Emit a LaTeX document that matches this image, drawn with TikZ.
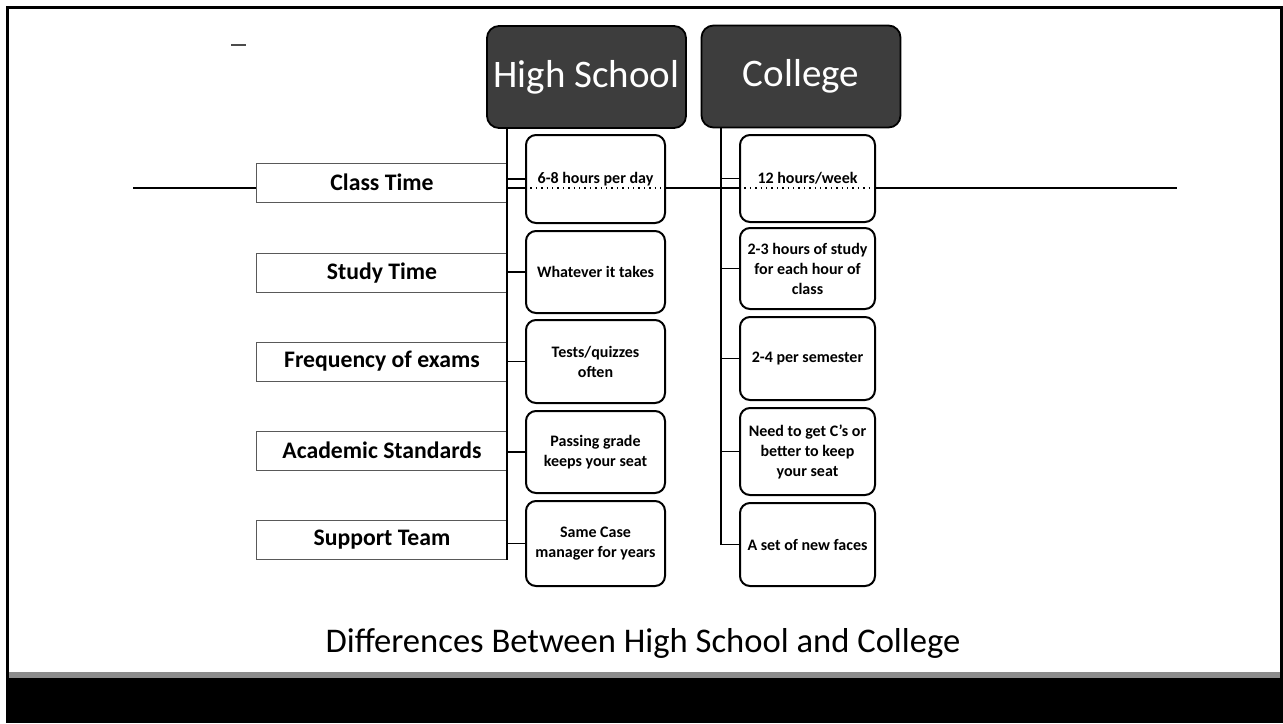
\documentclass[tikz,border=0pt]{standalone}
\usepackage{fontspec}
\setmainfont{Carlito}
\begin{document}
\begin{tikzpicture}[
  x=0.5pt,y=-0.5pt,
  head/.style={draw=black,line width=0.9pt,rounded corners=6pt,fill=black!76,text=white,inner sep=0pt,
    minimum width=99.5pt,minimum height=51pt,font=\fontsize{19.5}{22}\selectfont},
  rowlbl/.style={draw=black!65,line width=0.5pt,fill=white,inner sep=0pt,
    minimum width=125.5pt,minimum height=19.5pt,font=\bfseries\fontsize{11.85}{14}\selectfont},
  cell/.style={draw=black,line width=1pt,rounded corners=5pt,fill=white,align=center,inner sep=0pt,
    font=\bfseries\fontsize{8}{10}\selectfont},
  hcell/.style={cell,minimum width=69.5pt},
  ccell/.style={cell,minimum width=67.5pt},
  trunk/.style={draw=black,line width=0.9pt},
  branch/.style={draw=black,line width=0.9pt},
  guide/.style={draw=black,line width=0.7pt},
  guidein/.style={draw=black,line width=0.7pt,dotted},
  ttl/.style={font=\fontsize{17.3}{20}\selectfont},
]
\useasboundingbox (0,0) rectangle (1283,723);
\fill[white] (0,0) rectangle (1283,723);

\fill[black] (6,678) rectangle (1283,723);
\fill[black!45] (9,672) rectangle (1281,678);
\draw[line width=1.5pt] (7.5,678) -- (7.5,7) -- (1281,7) -- (1281,678);
\draw[black!70,line width=0.6pt] (231,45) -- (246,45);

\coordinate (gl) at (133,188);
\coordinate (gr) at (1177,188);
\draw[guide] (gl) -- (gr);

\node[head] (hs) at (586.5,77) {High School};
\node[head] (col) at (801,76.5) {College};

\node[rowlbl] (cls) at (382,182.5) {Class Time};
\node[rowlbl] (std) at (382,273) {Study Time};
\node[rowlbl] (frq) at (382,361.5) {Frequency of exams};
\node[rowlbl] (acd) at (382,450.5) {Academic Standards};
\node[rowlbl] (sup) at (382,540) {Support Team};

\node[hcell,minimum height=44pt] (h1) at (595.5,179) {6-8 hours per day};
\node[hcell,minimum height=41pt] (h2) at (595.5,272) {Whatever it takes};
\node[hcell,minimum height=41.5pt] (h3) at (595.5,361.5) {Tests/quizzes\\often};
\node[hcell,minimum height=41pt] (h4) at (595.5,452) {Passing grade\\keeps your seat};
\node[hcell,minimum height=42.5pt] (h5) at (595.5,543.5) {Same Case\\manager for years};

\node[ccell,minimum height=43.5pt] (c1) at (807.5,178.5) {12 hours/week};
\node[ccell,minimum height=40.5pt] (c2) at (807.5,268.5) {2-3 hours of study\\for each hour of\\class};
\node[ccell,minimum height=41.5pt] (c3) at (807.5,358.5) {2-4 per semester};
\node[ccell,minimum height=43.5pt] (c4) at (807.5,451.5) {Need to get C’s or\\better to keep\\your seat};
\node[ccell,minimum height=41.5pt] (c5) at (807.5,544.5) {A set of new faces};

\draw[guidein] (h1.west |- gl) -- (h1.east |- gl);
\draw[guidein] (c1.west |- gl) -- (c1.east |- gl);

\coordinate (ht) at ([xshift=10.5pt]hs.south west);
\coordinate (ct) at ([xshift=10pt]col.south west);
\draw[trunk] (ht) -- (ht |- sup.south);
\draw[trunk] (ct) -- (ct |- c5.west);

\draw[branch] (ht |- h1.west) -- (h1.west);
\draw[branch] (ht |- h2.west) -- (h2.west);
\draw[branch] (ht |- h3.west) -- (h3.west);
\draw[branch] (ht |- h4.west) -- (h4.west);
\draw[branch] (ht |- h5.west) -- (h5.west);
\draw[branch] (ct |- c1.west) -- (c1.west);
\draw[branch] (ct |- c2.west) -- (c2.west);
\draw[branch] (ct |- c3.west) -- (c3.west);
\draw[branch] (ct |- c4.west) -- (c4.west);
\draw[branch] (ct |- c5.west) -- (c5.west);

\node[ttl,anchor=base] (title) at (643,652) {Differences Between High School and College};
\end{tikzpicture}
\end{document}
